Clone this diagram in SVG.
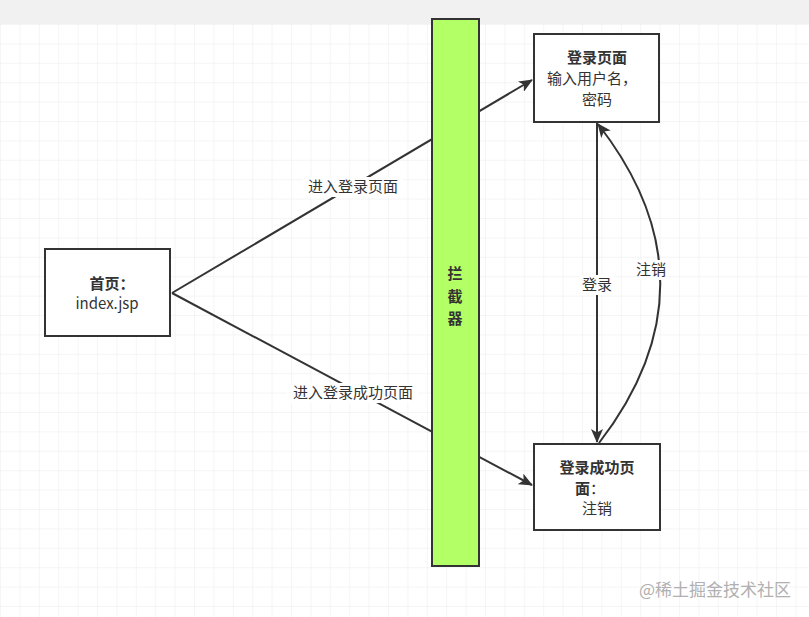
<svg xmlns="http://www.w3.org/2000/svg" width="809" height="617" viewBox="0 0 809 617">
<defs>
<pattern id="grid" x="0" y="24" width="19.4" height="19.4" patternUnits="userSpaceOnUse">
<path d="M0 0H19.4M0 0V19.4" fill="none" stroke="#ebebeb" stroke-width="1"/>
</pattern>
<marker id="arr" viewBox="0 0 14 12" refX="13" refY="6" markerWidth="14" markerHeight="12" markerUnits="userSpaceOnUse" orient="auto">
<path d="M0 0L14 6L0 12L3.5 6Z" fill="#333"/>
</marker>
</defs>
<style>
.box{fill:#fff;stroke:#333;stroke-width:2}
.t{font-family:"Noto Sans CJK SC","Liberation Sans",sans-serif;font-size:15px;fill:#333;text-anchor:middle}
.b{font-weight:bold}
.ln{fill:none;stroke:#333;stroke-width:2}
.lbl{fill:#fff}
</style>
<rect x="0" y="0" width="809" height="617" fill="#fff"/>
<rect x="0" y="24" width="809" height="593" fill="url(#grid)"/>
<rect x="0" y="0" width="809" height="24" fill="#f1f1f1"/>
<g id="connectors">
<path class="ln" d="M172 293L532 80" marker-end="url(#arr)"/>
<path class="ln" d="M172 293L532 485" marker-end="url(#arr)"/>
<path class="ln" d="M597 123L597 442" marker-end="url(#arr)"/>
<path class="ln" d="M599 443Q722 283 598 124" marker-end="url(#arr)"/>
<rect class="lbl" x="303" y="177" width="100" height="20"/>
<text class="t" x="353" y="192">进入登录页面</text>
<rect class="lbl" x="287" y="383" width="132" height="20"/>
<text class="t" x="353" y="398">进入登录成功页面</text>
<rect class="lbl" x="580" y="275" width="34" height="20"/>
<text class="t" x="597" y="290">登录</text>
<rect class="lbl" x="634" y="260" width="34" height="20"/>
<text class="t" x="651" y="275">注销</text>
</g>
<g id="interceptor">
<rect x="432" y="19" width="47" height="547" fill="#b3ff66" stroke="#333" stroke-width="2"/>
<text class="t b" x="455" y="279">拦</text>
<text class="t b" x="455" y="302">截</text>
<text class="t b" x="455" y="324">器</text>
</g>
<g id="home">
<rect class="box" x="45" y="249" width="125" height="87"/>
<text class="t b" x="112" y="289">首页：</text>
<text class="t" x="107" y="309">index.jsp</text>
</g>
<g id="login">
<rect class="box" x="534" y="34" width="125" height="88"/>
<text class="t b" x="597" y="63">登录页面</text>
<text class="t" x="592" y="84">输入用户名，</text>
<text class="t" x="597" y="105">密码</text>
</g>
<g id="success">
<rect class="box" x="534" y="444" width="126" height="86"/>
<text class="t b" x="597" y="473">登录成功页</text>
<text class="t" x="590" y="494"><tspan class="b">面</tspan>：</text>
<text class="t" x="597" y="514">注销</text>
</g>
<text x="715" y="596" style="font-family:'Noto Sans CJK SC',sans-serif;font-size:17px;fill:#b0b0b0;text-anchor:middle">@稀土掘金技术社区</text>
</svg>
